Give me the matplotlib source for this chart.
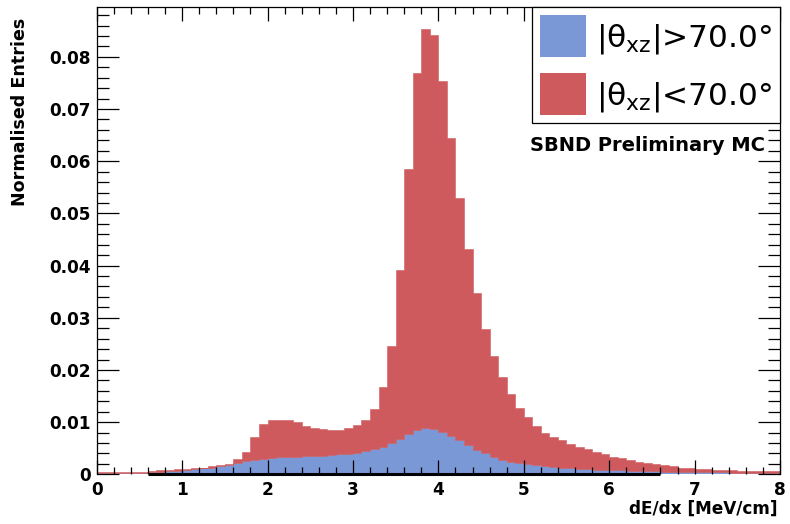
import numpy as np
import matplotlib
matplotlib.use("Agg")
import matplotlib.pyplot as plt
from matplotlib.patches import Patch
from matplotlib.ticker import MultipleLocator

# dE/dx binning: 80 bins of 0.1 MeV/cm between 0 and 8
bin_edges = np.round(np.arange(0.0, 8.0001, 0.1), 2)

# Normalised entries, tracks with |theta_xz| > 70 deg
steep = [
    0.0003, 0.0003, 0.0003, 0.0003, 0.0003, 0.0003, 0.0004, 0.0005, 0.0006, 0.0007,
    0.0008, 0.0010, 0.0012, 0.0013, 0.0015, 0.0017, 0.0021, 0.0025, 0.0028, 0.0030,
    0.0032, 0.0033, 0.0034, 0.0034, 0.0035, 0.0036, 0.0036, 0.0037, 0.0038, 0.0039,
    0.0041, 0.0044, 0.0048, 0.0053, 0.0060, 0.0068, 0.0078, 0.0085, 0.0089, 0.0087,
    0.0082, 0.0074, 0.0065, 0.0056, 0.0047, 0.0040, 0.0033, 0.0028, 0.0024, 0.0021,
    0.0019, 0.0017, 0.0015, 0.0014, 0.0013, 0.0012, 0.0011, 0.0010, 0.0009, 0.0009,
    0.0008, 0.0008, 0.0007, 0.0007, 0.0006, 0.0006, 0.0005, 0.0005, 0.0005, 0.0004,
    0.0004, 0.0004, 0.0004, 0.0004, 0.0003, 0.0003, 0.0003, 0.0003, 0.0003, 0.0003,
]

# Normalised entries, tracks with |theta_xz| < 70 deg (stacked on top)
shallow = [
    0.0002, 0.0002, 0.0002, 0.0002, 0.0002, 0.0002, 0.0002, 0.0003, 0.0003, 0.0003,
    0.0003, 0.0002, 0.0001, 0.0002, 0.0002, 0.0003, 0.0008, 0.0018, 0.0044, 0.0066,
    0.0072, 0.0072, 0.0070, 0.0067, 0.0058, 0.0053, 0.0050, 0.0048, 0.0046, 0.0049,
    0.0053, 0.0060, 0.0078, 0.0114, 0.0186, 0.0324, 0.0508, 0.0684, 0.0764, 0.0755,
    0.0672, 0.0571, 0.0464, 0.0375, 0.0300, 0.0238, 0.0194, 0.0158, 0.0129, 0.0107,
    0.0091, 0.0076, 0.0065, 0.0057, 0.0053, 0.0046, 0.0041, 0.0038, 0.0034, 0.0029,
    0.0026, 0.0023, 0.0020, 0.0017, 0.0015, 0.0013, 0.0012, 0.0010, 0.0008, 0.0008,
    0.0007, 0.0006, 0.0005, 0.0004, 0.0005, 0.0004, 0.0004, 0.0004, 0.0003, 0.0003,
]

legend_labels = ["|θ$_{\\mathregular{xz}}$|>70.0°", "|θ$_{\\mathregular{xz}}$|<70.0°"]
x_ticks = [0, 1, 2, 3, 4, 5, 6, 7, 8]
y_ticks = [0, 0.01, 0.02, 0.03, 0.04, 0.05, 0.06, 0.07, 0.08]
y_tick_labels = ["0", "0.01", "0.02", "0.03", "0.04", "0.05", "0.06", "0.07", "0.08"]

BLUE = "#7a98d5"
RED = "#cf5a5e"

plt.rcParams["font.family"] = ["DejaVu Sans"]
plt.rcParams["mathtext.fontset"] = "dejavusans"

W, H = 790, 524
fig = plt.figure(figsize=(W / 100, H / 100), dpi=100)
ax_l, ax_r, ax_t, ax_b = 96.7, 780.0, 7.3, 474.3
ax = fig.add_axes([ax_l / W, 1 - ax_b / H, (ax_r - ax_l) / W, (ax_b - ax_t) / H])

steep_arr = np.array(steep)
shallow_arr = np.array(shallow)

# stacked histogram
ax.stairs(steep_arr, bin_edges, baseline=0, fill=True, facecolor=BLUE,
          edgecolor=BLUE, lw=0.4, zorder=1)
ax.stairs(steep_arr + shallow_arr, bin_edges, baseline=steep_arr, fill=True,
          facecolor=RED, edgecolor=RED, lw=0.4, zorder=1)

ax.set_xlim(0, 8)
ax.set_ylim(0, 0.0895)

# frame: heavy baseline segment where the histogram does not cover it
ax.spines["bottom"].set_visible(False)
for s in ("left", "right", "top"):
    ax.spines[s].set_linewidth(0.9)
ax.plot([0.6, 6.6], [0, 0], color="black", lw=2.2, solid_capstyle="butt",
        zorder=3, clip_on=False)

ax.set_xticks(x_ticks)
ax.set_xticklabels([str(t) for t in x_ticks])
ax.set_yticks(y_ticks)
ax.set_yticklabels(y_tick_labels)
ax.xaxis.set_minor_locator(MultipleLocator(0.2))
ax.yaxis.set_minor_locator(MultipleLocator(0.002))

ax.tick_params(axis="both", which="both", direction="in", top=True, right=True,
               width=0.9, color="black")
ax.tick_params(axis="x", which="major", length=10, pad=4.5)
ax.tick_params(axis="x", which="minor", length=5)
ax.tick_params(axis="y", which="major", length=16, pad=4.5)
ax.tick_params(axis="y", which="minor", length=8.5)
for lab in ax.get_xticklabels() + ax.get_yticklabels():
    lab.set_fontweight("bold")
    lab.set_fontsize(12.2)

fig.text(778 / W, 1 - 509 / H, "dE/dx [MeV/cm]", ha="right", va="center",
         fontsize=12.2, fontweight="bold")
fig.text(20 / W, 1 - 18 / H, "Normalised Entries", rotation=90, ha="center",
         va="top", fontsize=12.6, fontweight="bold")

ax.text(0.978, 0.703, "SBND Preliminary MC", transform=ax.transAxes,
        ha="right", va="center", fontsize=14, fontweight="bold")

handles = [Patch(facecolor=BLUE, edgecolor="none"),
           Patch(facecolor=RED, edgecolor="none")]
leg = ax.legend(handles, legend_labels, loc="upper right", bbox_to_anchor=(1, 1),
                borderaxespad=0, fontsize=22.5, frameon=True, fancybox=False,
                edgecolor="black", framealpha=1, handlelength=1.45,
                handleheight=1.7, handletextpad=0.33, borderpad=0.25,
                labelspacing=0.5)
leg.get_frame().set_linewidth(0.9)
leg.set_zorder(5)

fig.savefig("out.png", dpi=100)
